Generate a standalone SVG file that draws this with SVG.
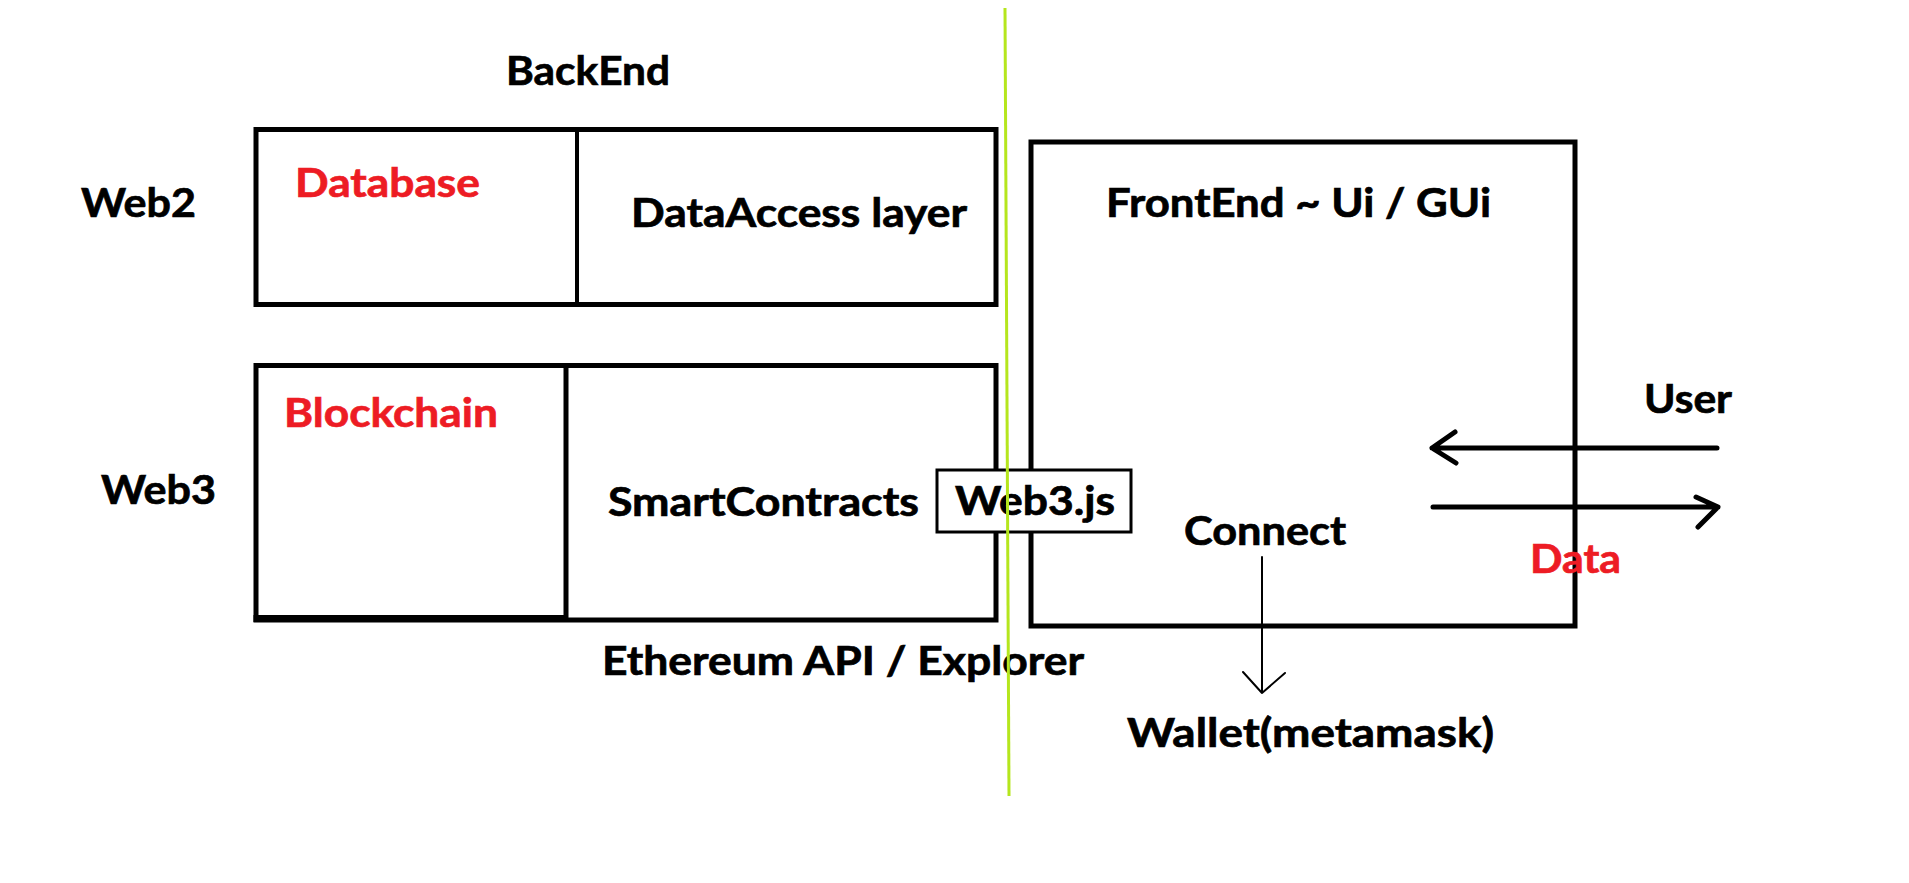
<svg xmlns="http://www.w3.org/2000/svg" width="1909" height="883" viewBox="0 0 1909 883">
<style>
.box{fill:none;stroke:#000;stroke-width:5}
.t{font-family:Lato,"Liberation Sans","DejaVu Sans",sans-serif;font-weight:bold;font-size:41px;fill:#000;stroke:#000;stroke-width:0.7}
.r{fill:#ed1c24;stroke:#ed1c24}
.arr{fill:none;stroke:#000;stroke-width:5;stroke-linecap:round;stroke-linejoin:round}
.thin{fill:none;stroke:#000;stroke-width:2;stroke-linecap:round;stroke-linejoin:round}
</style>
<rect width="1909" height="883" fill="#fff"/>
<g id="title-backend">
<text class="t" x="506" y="85" textLength="164" lengthAdjust="spacingAndGlyphs">BackEnd</text>
</g>
<g id="label-web2">
<text class="t" x="81" y="217" textLength="115" lengthAdjust="spacingAndGlyphs">Web2</text>
</g>
<g id="label-web3">
<text class="t" x="101" y="504" textLength="115" lengthAdjust="spacingAndGlyphs">Web3</text>
</g>
<g id="web2-box">
<rect class="box" x="256" y="129.5" width="740" height="175"/>
<line x1="577" y1="129.5" x2="577" y2="304.5" stroke="#000" stroke-width="4"/>
</g>
<g id="database">
<text class="t r" x="295" y="197" textLength="185" lengthAdjust="spacingAndGlyphs">Database</text>
</g>
<g id="data-access-layer">
<text class="t" x="631" y="227" textLength="336" lengthAdjust="spacingAndGlyphs">DataAccess layer</text>
</g>
<g id="web3-box">
<rect class="box" x="256" y="365.5" width="740" height="254.5"/>
<rect x="253.5" y="615" width="313" height="7" fill="#000"/>
<line x1="566" y1="365.5" x2="566" y2="620" stroke="#000" stroke-width="5"/>
</g>
<g id="blockchain">
<text class="t r" x="284" y="427" textLength="214" lengthAdjust="spacingAndGlyphs">Blockchain</text>
</g>
<g id="smart-contracts">
<text class="t" x="608" y="516" textLength="311" lengthAdjust="spacingAndGlyphs">SmartContracts</text>
</g>
<g id="ethereum-api">
<text class="t" x="602" y="675" textLength="482" lengthAdjust="spacingAndGlyphs">Ethereum API / Explorer</text>
</g>
<g id="frontend">
<rect class="box" x="1031" y="142" width="544" height="484"/>
<text class="t" x="1106" y="217" font-size="44" textLength="385" lengthAdjust="spacingAndGlyphs">FrontEnd ~ Ui / GUi</text>
</g>
<g id="connect">
<text class="t" x="1184" y="545" textLength="162" lengthAdjust="spacingAndGlyphs">Connect</text>
</g>
<g id="web3js">
<rect x="937" y="470" width="194" height="62" fill="#fff" stroke="#000" stroke-width="3"/>
<text class="t" x="955" y="515" font-size="42" textLength="160" lengthAdjust="spacingAndGlyphs">Web3.js</text>
</g>
<g id="user">
<text class="t" x="1644" y="413" textLength="88" lengthAdjust="spacingAndGlyphs">User</text>
</g>
<g id="data">
<text class="t r" x="1530" y="573" textLength="91" lengthAdjust="spacingAndGlyphs">Data</text>
</g>
<g id="wallet">
<text class="t" x="1127" y="747" textLength="367" lengthAdjust="spacingAndGlyphs">Wallet(metamask)</text>
</g>
<g id="connectors">
<path class="arr" d="M1717 448 H1432 M1455 432 L1432 448 L1456 463"/>
<path class="arr" d="M1433 507 H1718 M1696 497 L1718 507 L1698 527"/>
<path class="thin" d="M1262 557 V693 M1243 672 L1262 693 L1285 673"/>
</g>
<g id="divider">
<line x1="1005" y1="8" x2="1009" y2="796" stroke="#b5e61d" stroke-width="3"/>
</g>
</svg>
